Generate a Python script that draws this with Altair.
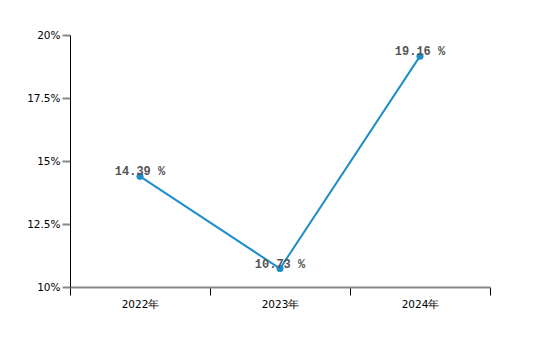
import altair as alt
import pandas as pd

years = ["2022年", "2023年", "2024年"]
values = [14.39, 10.73, 19.16]
labels = ["14.39 %", "10.73 %", "19.16 %"]
y_ticks = [10, 12.5, 15, 17.5, 20]

df = pd.DataFrame({"year": years, "value": values, "label": labels})

x = alt.X("year:N", sort=years, title=None,
          scale=alt.Scale(paddingInner=0, paddingOuter=0),
          axis=alt.Axis(labelAngle=0, tickBand="extent", domainColor="#888888",
                        domainWidth=2, tickColor="#000000", tickSize=8,
                        labelFontSize=10.5, labelColor="#000000", labelPadding=4,
                        labelFont="DejaVu Sans"))
y = alt.Y("value:Q", title=None,
          scale=alt.Scale(domain=[10, 20], nice=False, zero=False),
          axis=alt.Axis(values=y_ticks, labelExpr="datum.value + '%'",
                        domainColor="#000000", tickColor="#888888", tickWidth=2,
                        tickSize=8, grid=False, labelFontSize=10.5,
                        labelColor="#000000", labelPadding=2, labelFont="DejaVu Sans"))

base = alt.Chart(df).encode(x=x, y=y)

line = base.mark_line(color="#1b8ecb", strokeWidth=2)
pts = base.mark_circle(color="#1b8ecb", size=50, opacity=1)
txt = base.mark_text(font="Liberation Mono", fontWeight="bold", fontSize=12,
                     color="#555555", baseline="alphabetic", dy=-1).encode(text="label:N")

chart = alt.layer(line, pts, txt).properties(
    width=420, height=252,
    autosize=alt.AutoSizeParams(type="none"),
    padding={"left": 70, "top": 35, "right": 70, "bottom": 59},
    background="white",
).configure_view(stroke=None, strokeWidth=0)

chart.save("out.html", embed_options={"renderer": "svg", "actions": False})
